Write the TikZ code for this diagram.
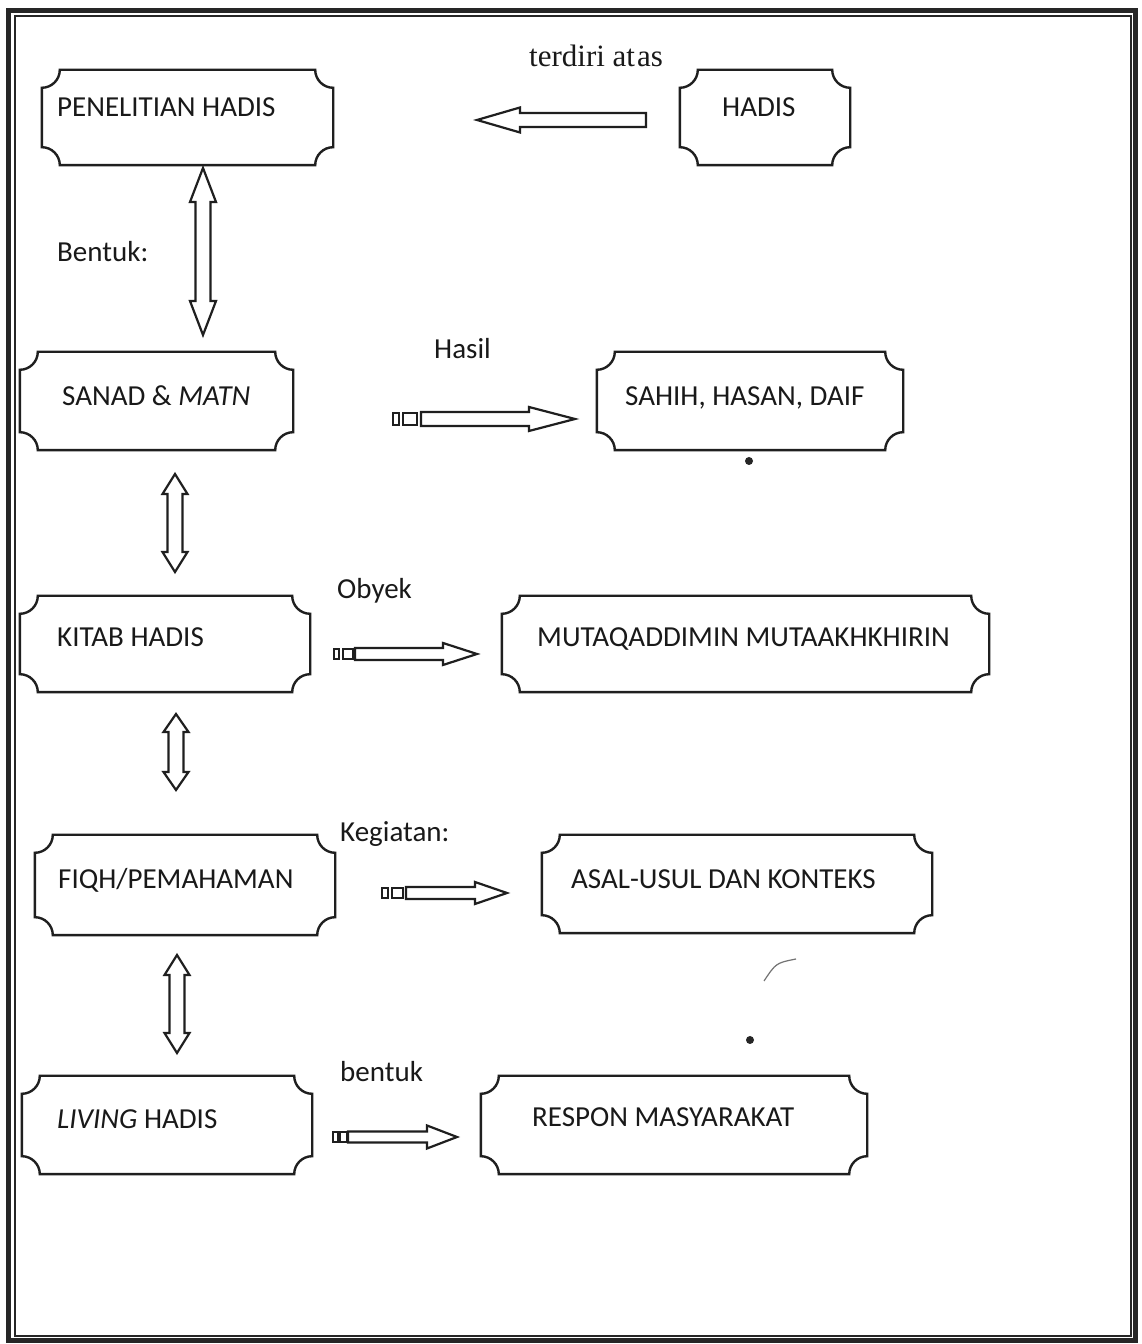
\documentclass[tikz,border=0pt]{standalone}
\usepackage{fontspec}
\setmainfont{Carlito}
\newfontfamily\serifface{Liberation Serif}
\usetikzlibrary{calc}
\tikzset{
  plaq/.style={draw=black!88, line width=2.4pt},
  box/.style={rectangle, inner sep=0pt, draw=none},
  txt/.style={inner sep=0pt, anchor=base west, font=\fontsize{29}{34}\selectfont, text=black!90},
  blk/.style={draw=black!88, line width=2.2pt, fill=white, line join=miter},
  tailbox/.style={draw=black!88, line width=2pt, fill=white},
}
\newcommand\plaque[1]{\draw[plaq] ([yshift=-18pt]#1.north west) arc[start angle=270,end angle=360,radius=18pt] -- ([xshift=-18pt]#1.north east) arc[start angle=180,end angle=270,radius=18pt] -- ([yshift=18pt]#1.south east) arc[start angle=90,end angle=180,radius=18pt] -- ([xshift=18pt]#1.south west) arc[start angle=0,end angle=90,radius=18pt] -- cycle;}
\newcommand\sbarrow[5]{%
 \path ($(#2)!#5!(#1)$) coordinate (sa-h);
 \draw[blk] ($(#1)!#3!90:(#2)$) -- ($(sa-h)!#3!-90:(#1)$) -- ($(sa-h)!#4!-90:(#1)$) -- (#2) -- ($(sa-h)!#4!90:(#1)$) -- ($(sa-h)!#3!90:(#1)$) -- ($(#1)!#3!-90:(#2)$) -- cycle;}
\newcommand\dbarrow[5]{%
 \path ($(#1)!#5!(#2)$) coordinate (da-a) ($(#2)!#5!(#1)$) coordinate (da-b);
 \draw[blk] (#1) -- ($(da-a)!#4!90:(#2)$) -- ($(da-a)!#3!90:(#2)$) -- ($(da-b)!#3!-90:(#1)$) -- ($(da-b)!#4!-90:(#1)$) -- (#2) -- ($(da-b)!#4!90:(#1)$) -- ($(da-b)!#3!90:(#1)$) -- ($(da-a)!#3!-90:(#2)$) -- ($(da-a)!#4!-90:(#2)$) -- cycle;}
\begin{document}
\begin{tikzpicture}[x=1pt,y=1pt]
\useasboundingbox (0,0) rectangle (1141,1344);
\fill[white] (0,0) rectangle (1141,1344);
% page frame
\draw[black!85, line width=5.5pt] (8.5,3.5) rectangle (1135.5,1333.5);
\draw[black!85, line width=1.6pt] (15,8) rectangle (1131,1328);

% boxes
\node[box, minimum width=291pt, minimum height=95pt] (pen) at (187.5,1226.5) {};
\node[box, minimum width=170pt, minimum height=95pt] (had) at (765,1226.5) {};
\node[box, minimum width=273pt, minimum height=98pt] (san) at (156.5,943) {};
\node[box, minimum width=306pt, minimum height=98pt] (sah) at (750,943) {};
\node[box, minimum width=290pt, minimum height=96pt] (kit) at (165,700) {};
\node[box, minimum width=487pt, minimum height=96pt] (mut) at (745.5,700) {};
\node[box, minimum width=300pt, minimum height=100pt] (fiq) at (185,459) {};
\node[box, minimum width=390pt, minimum height=98pt] (asa) at (737,460) {};
\node[box, minimum width=290pt, minimum height=98pt] (liv) at (167,219) {};
\node[box, minimum width=386pt, minimum height=98pt] (res) at (674,219) {};
\foreach \b in {pen,had,san,sah,kit,mut,fiq,asa,liv,res} {\plaque{\b}}

% box texts
\node[txt] (penT) at (57,1227) {PENELITIAN HADIS};
\node[txt] (hadT) at (722,1227) {HADIS};
\node[txt] (sanT) at (62,938) {SANAD \& \textit{MATN}};
\node[txt] (sahT) at (625,938) {SAHIH, HASAN, DAIF};
\node[txt] (kitT) at (57,697) {KITAB HADIS};
\node[txt] (mutT) at (537,697) {MUTAQADDIMIN MUTAAKHKHIRIN};
\node[txt] (fiqT) at (58,455) {FIQH/PEMAHAMAN};
\node[txt] (asaT) at (571,455) {ASAL-USUL DAN KONTEKS};
\node[txt] (livT) at (57,215) {\textit{LIVING} HADIS};
\node[txt] (resT) at (532,217) {RESPON MASYARAKAT};

% labels
\node[txt, font=\serifface\fontsize{31}{36}\selectfont] (lTer) at (529,1277) {terdiri at\kern2pt as};
\node[txt] (lBen) at (57,1082) {Bentuk:};
\node[txt] (lHas) at (434,985) {Hasil};
\node[txt] (lOby) at (337,745) {Obyek};
\node[txt] (lKeg) at (340,502) {Kegiatan:};
\node[txt] (lben) at (340,262) {bentuk};

% connector end points
\coordinate (a0s) at (646,1224);  \coordinate (a0e) at (477,1224);
\coordinate (v1a) at (203,1176);  \coordinate (v1b) at (203,1009);
\coordinate (v2a) at (175,870);   \coordinate (v2b) at (175,772);
\coordinate (v3a) at (176,630);   \coordinate (v3b) at (176,554);
\coordinate (v4a) at (177,389);   \coordinate (v4b) at (177,291);
\coordinate (s1a) at (421,925);   \coordinate (s1b) at (575,925);
\coordinate (s2a) at (355,690);   \coordinate (s2b) at (477,690);
\coordinate (s3a) at (406,451);   \coordinate (s3b) at (507,451);
\coordinate (s4a) at (348,207);   \coordinate (s4b) at (457,207);

\sbarrow{a0s}{a0e}{7pt}{12.5pt}{43pt}
\dbarrow{v1a}{v1b}{7.5pt}{13pt}{34pt}
\dbarrow{v2a}{v2b}{7.5pt}{12.5pt}{20pt}
\dbarrow{v3a}{v3b}{7.5pt}{12.5pt}{18pt}
\dbarrow{v4a}{v4b}{7.5pt}{12.5pt}{20pt}

% striped block arrows
\draw[tailbox] (393,919) rectangle (399,931);
\draw[tailbox] (403,919) rectangle (417,931);
\sbarrow{s1a}{s1b}{7pt}{12pt}{46pt}
\draw[tailbox] (334,685) rectangle (339,695);
\draw[tailbox] (343,685) rectangle (353,695);
\sbarrow{s2a}{s2b}{6pt}{11pt}{34pt}
\draw[tailbox] (382,446) rectangle (388,456);
\draw[tailbox] (392,446) rectangle (403,456);
\sbarrow{s3a}{s3b}{6pt}{11pt}{32pt}
\draw[tailbox] (333,202) rectangle (338,212);
\draw[tailbox] (340,202) rectangle (347,212);
\sbarrow{s4a}{s4b}{5.5pt}{11.5pt}{30pt}

% stray marks
\fill[black!85] (749,883) circle (4);
\fill[black!85] (750,304) circle (4);
\draw[black!55, line width=1.2pt] (764,363) .. controls (776,381) .. (796,385);
\end{tikzpicture}
\end{document}
